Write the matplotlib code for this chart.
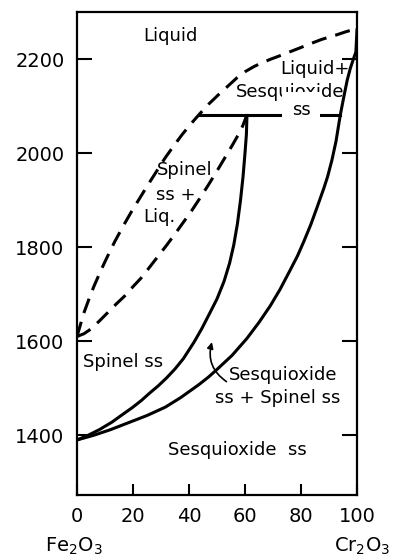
import matplotlib
matplotlib.use("Agg")
import matplotlib.pyplot as plt

# Fe2O3 - Cr2O3 phase diagram, temperatures in deg C
liquidus_x = [0, 2.4, 4.3, 6, 8.5, 10.7, 13.5, 16.7, 19.5, 22.6, 25.5, 28.5, 31.5, 34.5,
              37.5, 40.5, 43.6, 47, 50.5, 54, 57.1, 60, 63.2, 66, 69.3, 72, 75, 79.3,
              83.5, 87.5, 92.5, 96, 100]
liquidus_y = [1610, 1659, 1690, 1716, 1750, 1778, 1812, 1847, 1876, 1906, 1934, 1962, 1990, 2015,
              2039, 2061, 2082, 2104, 2124, 2143, 2160, 2173, 2184, 2192, 2200, 2206, 2213, 2223,
              2233, 2242, 2251, 2258, 2265]

spinel_liq_x = [0, 2.5, 5, 8, 11, 14, 17, 20, 23, 26, 29, 32, 35, 38, 41, 44, 47, 50, 53,
                55.5, 57.5, 59.2, 60.6]
spinel_liq_y = [1610, 1616, 1626, 1643, 1661, 1679, 1696, 1716, 1735, 1758, 1781, 1804, 1828,
                1853, 1878, 1905, 1933, 1962, 1992, 2017, 2038, 2058, 2080]

spinel_ss_x = [0, 4, 8, 12.5, 16, 19.8, 23, 26, 29, 32, 35, 38, 41.8, 44.5, 47.1, 50, 52.5,
               54.5, 56, 57.3, 58.4, 59.3, 60, 60.5, 60.7]
spinel_ss_y = [1390, 1400, 1412, 1428, 1443, 1459, 1474, 1490, 1505, 1522, 1541, 1563, 1598,
               1626, 1656, 1690, 1727, 1766, 1805, 1850, 1900, 1950, 2000, 2040, 2080]

sesqui_ss_x = [0, 6, 12, 19.8, 25, 31.6, 37, 43.6, 47, 50, 55.4, 60.7, 65, 69, 72.5, 76.2,
               78.8, 81, 83.5, 85.7, 88.2, 89.5, 91, 92.5, 94, 95.3, 96.5, 97.6, 98.6, 99.6, 100]
sesqui_ss_y = [1390, 1400, 1412, 1430, 1442, 1460, 1480, 1508, 1524, 1540, 1570, 1606, 1640,
               1675, 1710, 1752, 1782, 1812, 1848, 1884, 1926, 1950, 1984, 2025, 2080, 2120,
               2155, 2180, 2198, 2215, 2262]

tie_x = [43.6, 94]
tie_y = [2080, 2080]

xticks = [0, 20, 40, 60, 80, 100]
yticks = [1400, 1600, 1800, 2000, 2200]

fig = plt.figure(figsize=(3.94, 5.59), dpi=100)
ax = fig.add_axes([0.1954, 0.1145, 0.7107, 0.864])

lw = 2.2
ax.plot(liquidus_x, liquidus_y, color='black', lw=lw, dashes=(5, 3))
ax.plot(spinel_liq_x, spinel_liq_y, color='black', lw=lw, dashes=(5, 3))
ax.plot(spinel_ss_x, spinel_ss_y, color='black', lw=lw)
ax.plot(sesqui_ss_x, sesqui_ss_y, color='black', lw=lw)
ax.plot(tie_x, tie_y, color='black', lw=lw)

fs = 13
ax.text(33.2, 2249, 'Liquid', fontsize=fs, ha='center', va='center')
ax.text(97.5, 2179, 'Liquid+', fontsize=fs, ha='right', va='center')
ax.text(76, 2130, 'Sesquioxide', fontsize=fs, ha='center', va='center')
ax.text(80, 2091, 'ss', fontsize=fs, ha='center', va='center', zorder=5,
        bbox=dict(facecolor='white', edgecolor='none', pad=7))
ax.text(38.6, 1964, 'Spinel', fontsize=fs, ha='center', va='center')
ax.text(35.4, 1911, 'ss +', fontsize=fs, ha='center', va='center')
ax.text(29.6, 1864, 'Liq.', fontsize=fs, ha='center', va='center')
ax.text(2.2, 1556, 'Spinel ss', fontsize=fs, ha='left', va='center')
ax.text(73.6, 1529, 'Sesquioxide', fontsize=fs, ha='center', va='center')
ax.text(71.8, 1480, 'ss + Spinel ss', fontsize=fs, ha='center', va='center')
ax.text(57.1, 1369, 'Sesquioxide  ss', fontsize=fs, ha='center', va='center')

ax.annotate('', xy=(48.2, 1598), xytext=(53.4, 1514),
            arrowprops=dict(arrowstyle='-|>', color='black', lw=1.2,
                            mutation_scale=9, shrinkA=0, shrinkB=0,
                            connectionstyle='arc3,rad=-0.35'))

ax.set_xlim(0, 100)
ax.set_ylim(1273, 2300)
ax.set_xticks(xticks)
ax.set_yticks(yticks)
ax.tick_params(axis='both', direction='in', labelsize=14, width=1.5)
ax.tick_params(axis='y', length=11, right=True, pad=9)
ax.tick_params(axis='x', length=8, pad=9)
for s in ax.spines.values():
    s.set_linewidth(1.6)

fig.text(0.188, 0.004, 'Fe$_2$O$_3$', fontsize=14, ha='center', va='bottom')
fig.text(0.919, 0.004, 'Cr$_2$O$_3$', fontsize=14, ha='center', va='bottom')

fig.savefig('out.png', dpi=100)
